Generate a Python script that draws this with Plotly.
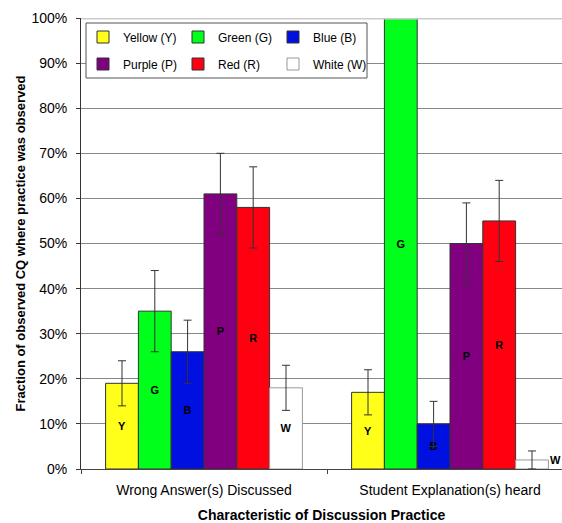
import plotly.graph_objects as go

categories = ["Wrong Answer(s) Discussed", "Student Explanation(s) heard"]
series_names = ["Yellow (Y)", "Green (G)", "Blue (B)", "Purple (P)", "Red (R)", "White (W)"]
series_letters = ["Y", "G", "B", "P", "R", "W"]
yellow = [19, 17]
green = [35, 100]
blue = [26, 10]
purple = [61, 50]
red = [58, 55]
white = [18, 2]
yellow_err = [5, 5]
green_err = [9, None]
blue_err = [7, 5]
purple_err = [9, 9]
red_err = [9, 9]
white_err = [5, 2]
y_ticks = [0, 10, 20, 30, 40, 50, 60, 70, 80, 90, 100]
y_tick_labels = ["0%", "10%", "20%", "30%", "40%", "50%", "60%", "70%", "80%", "90%", "100%"]

values = [yellow, green, blue, purple, red, white]
errors = [yellow_err, green_err, blue_err, purple_err, red_err, white_err]
colors = ["#FFFF1A", "#00FF1A", "#0010E0", "#800080", "#FF0010", "#FFFFFF"]
line_colors = ["#333333", "#333333", "#333333", "#333333", "#333333", "#999999"]
legend_ids = ["legend", "legend", "legend", "legend2", "legend2", "legend2"]

FONT = "Liberation Sans, Arial, sans-serif"

# plot area in pixels
L, T, B, W_FIG, H_FIG = 81, 18, 54, 562, 523
PW = W_FIG - L
PH = H_FIG - T - B

fig = go.Figure()
for i, name in enumerate(series_names):
    texts = []
    for v in values[i]:
        texts.append(series_letters[i] if v >= 5 else "")
    fig.add_trace(go.Bar(
        name=name,
        x=categories,
        y=values[i],
        marker=dict(color=colors[i], line=dict(color=line_colors[i], width=1)),
        text=texts,
        textposition="inside",
        insidetextanchor="middle",
        textangle=0,
        textfont=dict(family=FONT, size=11, color="black", weight="bold"),
        error_y=dict(type="data", array=errors[i], visible=True,
                     color="#333333", thickness=1, width=4),
        legend=legend_ids[i],
        cliponaxis=True,
    ))

# label for the small white bar, drawn beside the bar
fig.add_annotation(x=categories[1], y=white[1], xref="x", yref="y",
                   text="<b>W</b>", showarrow=False,
                   xshift=105, yshift=0, xanchor="center",
                   font=dict(family=FONT, size=11, color="black"))

fig.add_shape(type="rect", xref="paper", yref="paper",
              x0=(86 - L) / PW, x1=(367 - L) / PW,
              y0=(H_FIG - B - 78) / PH, y1=(H_FIG - B - 23) / PH,
              line=dict(color="#555555", width=1), fillcolor="white", layer="above")
fig.add_shape(type="line", xref="paper", yref="y", x0=0, x1=1, y0=100, y1=100,
              line=dict(color="#CCCCCC", width=3), layer="above")

legend_common = dict(orientation="h", xanchor="left", yanchor="middle",
                     bgcolor="rgba(0,0,0,0)", borderwidth=0,
                     font=dict(family=FONT, size=12, color="black"),
                     entrywidth=50, entrywidthmode="pixels", itemwidth=30)

fig.update_layout(
    width=W_FIG, height=H_FIG,
    margin=dict(l=L, r=0, t=T, b=B, autoexpand=False),
    paper_bgcolor="white", plot_bgcolor="white",
    barmode="group", bargap=0.2, bargroupgap=0,
    font=dict(family=FONT, size=12, color="black"),
    legend=dict(x=(83 - L) / PW, y=(H_FIG - B - 37) / PH, **legend_common),
    legend2=dict(x=(83 - L) / PW, y=(H_FIG - B - 64) / PH, **legend_common),
    xaxis=dict(
        automargin=False,
        range=[-0.5, -0.5 + PW / 246],
        showline=True, linecolor="#444444", linewidth=1,
        ticks="outside", tickson="boundaries", ticklen=4, tickcolor="#444444",
        tickfont=dict(family=FONT, size=14), ticklabelstandoff=8,
        title=dict(text="<b>Characteristic of Discussion Practice</b>",
                   font=dict(family=FONT, size=14), standoff=20),
    ),
    yaxis=dict(
        automargin=False,
        range=[0, 100], tickvals=y_ticks, ticktext=y_tick_labels,
        showline=True, linecolor="#333333", linewidth=1,
        ticks="outside", ticklen=4, tickcolor="#333333",
        showgrid=True, gridcolor="#888888", gridwidth=1,
        tickfont=dict(family=FONT, size=14), ticklabelstandoff=6,
        title=dict(text="<b>Fraction of observed CQ where practice was observed</b>",
                   font=dict(family=FONT, size=13), standoff=2),
    ),
)

fig.write_html("out.html", config={"displayModeBar": False},
               post_script="document.body.style.margin='0';document.body.style.overflow='hidden';")
